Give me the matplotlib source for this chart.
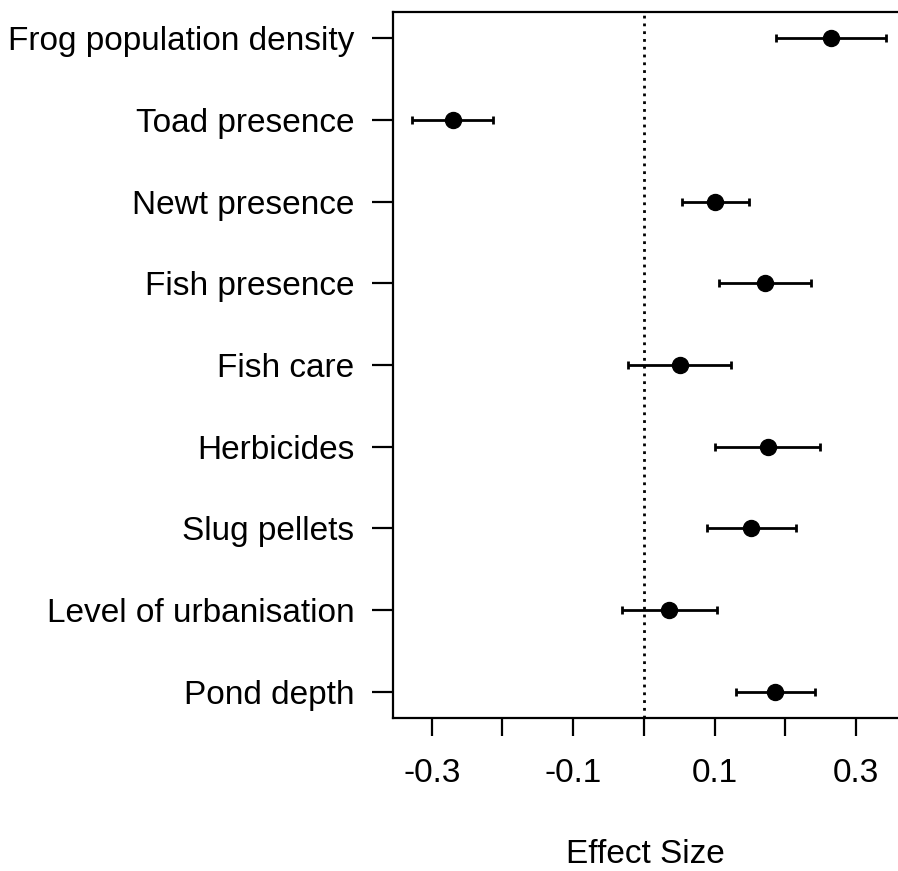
import matplotlib
matplotlib.use("Agg")
import matplotlib.pyplot as plt
import numpy as np

plt.rcParams['font.family'] = ['Liberation Sans', 'DejaVu Sans']

# predictors, top to bottom
labels = ['Frog population density', 'Toad presence', 'Newt presence',
          'Fish presence', 'Fish care', 'Herbicides', 'Slug pellets',
          'Level of urbanisation', 'Pond depth']
effect = [0.265, -0.270, 0.101, 0.172, 0.0505, 0.175, 0.152, 0.0355, 0.186]
lower = [0.187, -0.328, 0.054, 0.107, -0.023, 0.101, 0.089, -0.0306, 0.130]
upper = [0.343, -0.213, 0.1485, 0.237, 0.124, 0.2495, 0.2155, 0.103, 0.242]

xticks = [-0.3, -0.2, -0.1, 0.0, 0.1, 0.2, 0.3]
xticklabels = ['-0.3', '', '-0.1', '', '0.1', '', '0.3']

effect = np.array(effect)
err = np.array([effect - np.array(lower), np.array(upper) - effect])
ypos = np.arange(len(labels), 0, -1)

fig = plt.figure(figsize=(8.98, 8.71), dpi=100)
ax = fig.add_axes([0.438, 0.1757, 0.562, 0.8105])

ax.axvline(0, color='black', linestyle=(0, (1, 1.8)), linewidth=2)
ax.errorbar(effect, ypos, xerr=err, fmt='o', color='black', markersize=11.5,
            elinewidth=2, capsize=3, capthick=2)

ax.set_xlim(-0.3543, 0.3595)
ax.set_ylim(0.68, 9.32)
ax.set_yticks(ypos)
ax.set_yticklabels(labels, fontsize=24)
ax.set_xticks(xticks)
ax.set_xticklabels(xticklabels, fontsize=24)
ax.tick_params(axis='y', length=15, width=1.6, pad=13)
ax.tick_params(axis='x', length=13, width=1.6, pad=16)
ax.set_xlabel('Effect Size', fontsize=24, labelpad=36)

for s in ['left', 'top', 'bottom']:
    ax.spines[s].set_linewidth(1.6)
ax.spines['right'].set_visible(False)

fig.savefig('out.png', dpi=100)
